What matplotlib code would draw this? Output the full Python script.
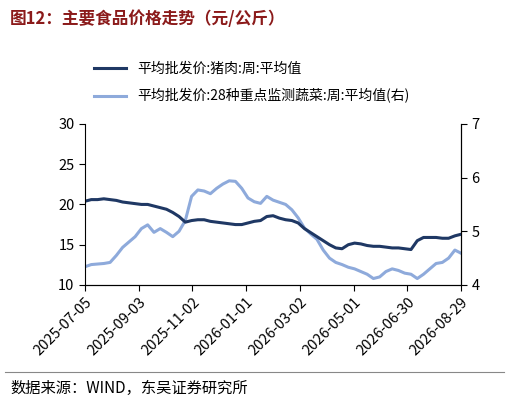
import matplotlib
matplotlib.use("Agg")
import matplotlib.pyplot as plt
import pandas as pd
from matplotlib.lines import Line2D

plt.rcParams["font.family"] = ["Noto Sans CJK SC", "DejaVu Sans"]

dates = pd.date_range("2025-07-05", "2026-08-29", freq="7D")
pork = [20.4, 20.6, 20.6, 20.7, 20.6, 20.5, 20.3, 20.2, 20.1, 20.0,
        20.0, 19.8, 19.6, 19.4, 19.0, 18.5, 17.8, 18.0, 18.1, 18.1,
        17.9, 17.8, 17.7, 17.6, 17.5, 17.5, 17.7, 17.9, 18.0, 18.5,
        18.6, 18.3, 18.1, 18.0, 17.7, 17.0, 16.5, 16.0, 15.5, 15.0,
        14.6, 14.5, 15.0, 15.2, 15.1, 14.9, 14.8, 14.8, 14.7, 14.6,
        14.6, 14.5, 14.4, 15.5, 15.9, 15.9, 15.9, 15.8, 15.8, 16.1, 16.3]
veg = [4.34, 4.38, 4.39, 4.40, 4.42, 4.55, 4.70, 4.80, 4.90, 5.05,
       5.12, 4.98, 5.05, 4.98, 4.90, 5.00, 5.20, 5.65, 5.77, 5.75,
       5.70, 5.80, 5.88, 5.94, 5.93, 5.80, 5.62, 5.55, 5.52, 5.65,
       5.58, 5.54, 5.50, 5.40, 5.25, 5.06, 4.95, 4.85, 4.65, 4.50,
       4.42, 4.38, 4.33, 4.30, 4.25, 4.20, 4.12, 4.15, 4.25, 4.30,
       4.27, 4.22, 4.20, 4.12, 4.20, 4.30, 4.40, 4.42, 4.50, 4.65, 4.59]
tick_labels = ["2025-07-05", "2025-09-03", "2025-11-02", "2026-01-01",
               "2026-03-02", "2026-05-01", "2026-06-30", "2026-08-29"]
dark, light = "#1f3864", "#8eaadb"

fig = plt.figure(figsize=(5.09, 4.13), dpi=100)
ax = fig.add_axes([0.167, 0.31, 0.739, 0.39])
ax2 = ax.twinx()
ax2.plot(dates, veg, color=light, lw=2.2)
ax.plot(dates, pork, color=dark, lw=2.2)
ax.set_zorder(ax2.get_zorder() + 1)
ax.patch.set_visible(False)

ax.set_ylim(10, 30)
ax.set_yticks([10, 15, 20, 25, 30])
ax2.set_ylim(4, 7)
ax2.set_yticks([4, 5, 6, 7])
ax.set_xlim(dates[0], dates[-1])
ax.set_xticks(pd.to_datetime(tick_labels))
ax.set_xticklabels(tick_labels, rotation=45, ha="right", rotation_mode="anchor", fontsize=10.5)
for a in (ax, ax2):
    a.tick_params(labelsize=10.5, direction="out", length=4)
    a.spines["top"].set_visible(False)
ax2.spines["left"].set_visible(False)

fig.text(0.02, 0.955, "图12：主要食品价格走势（元/公斤）", fontsize=12, fontweight="bold",
         color="#8b1a1a", va="center")
fig.legend([Line2D([], [], color=dark, lw=2.2), Line2D([], [], color=light, lw=2.2)],
           ["平均批发价:猪肉:周:平均值", "平均批发价:28种重点监测蔬菜:周:平均值(右)"],
           loc="upper left", bbox_to_anchor=(0.16, 0.88), frameon=False, fontsize=10,
           handlelength=2.3, labelspacing=0.9)
fig.add_artist(Line2D([0.01, 0.99], [0.1, 0.1], color="#888888", lw=0.8))
fig.text(0.02, 0.06, "数据来源：WIND，东吴证券研究所", fontsize=11, va="center")
fig.savefig("out.png", dpi=100)
